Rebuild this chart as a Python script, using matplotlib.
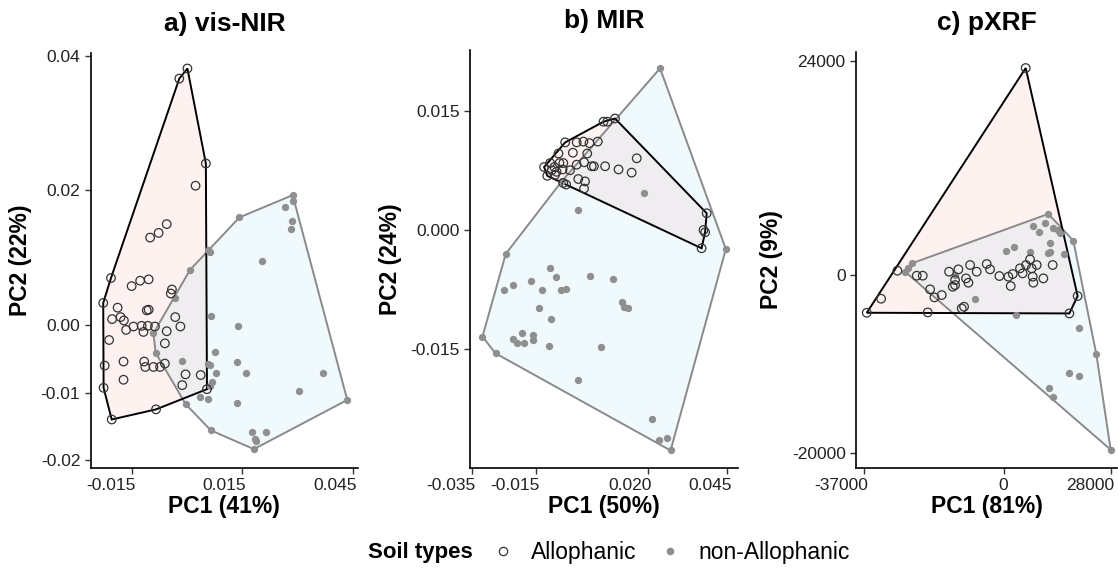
import numpy as np
import matplotlib
matplotlib.use("Agg")
import matplotlib.pyplot as plt
import matplotlib.transforms as mtransforms
from matplotlib.lines import Line2D

plt.rcParams['font.family'] = ['Liberation Sans', 'DejaVu Sans']

# ---- a) vis-NIR scores ----
visnir_allo_x = [0.0001, -0.0021, 0.0051, 0.0023, -0.0055, -0.0077, -0.0100, -0.0206, -0.0227,
                 -0.0150, -0.0127, -0.0104, -0.0041, -0.0044, -0.0188, -0.0203, -0.0180, -0.0171,
                 -0.0165, -0.0145, -0.0123, -0.0118, -0.0109, -0.0104, -0.0106, -0.0087, -0.0055,
                 -0.0060, -0.0032, -0.0018, -0.0211, -0.0223, -0.0172, -0.0172, -0.0226, -0.0116,
                 -0.0113, -0.0091, -0.0073, -0.0060, -0.0004, -0.0013, 0.0037, 0.0054, -0.0084,
                 -0.0204]
visnir_allo_y = [0.0381, 0.0366, 0.0240, 0.0207, 0.0150, 0.0137, 0.0130, 0.0070, 0.0033,
                 0.0058, 0.0066, 0.0068, 0.0053, 0.0047, 0.0026, 0.0009, 0.0012, 0.0007,
                 -0.0007, -0.0002, -0.0001, -0.0010, 0.0022, 0.0023, -0.0001, -0.0002, -0.0009,
                 -0.0027, 0.0012, -0.0002, -0.0022, -0.0060, -0.0054, -0.0081, -0.0093, -0.0054,
                 -0.0062, -0.0062, -0.0062, -0.0057, -0.0073, -0.0089, -0.0074, -0.0095, -0.0125,
                 -0.0140]
visnir_non_x = [0.0286, 0.0286, 0.0266, 0.0142, 0.0284, 0.0281, 0.0058, 0.0063, 0.0203, 0.0008,
                -0.0032, 0.0066, 0.0137, -0.0091, -0.0085, 0.0076, -0.0014, 0.0058, 0.0063, 0.0136,
                0.0079, 0.0160, 0.0367, 0.0068, 0.0062, 0.0304, 0.0434, 0.0035, 0.0058, 0.0134,
                -0.0004, 0.0064, 0.0175, 0.0213, 0.0185, 0.0187, 0.0181]
visnir_non_y = [0.0193, 0.0184, 0.0175, 0.0160, 0.0154, 0.0143, 0.0111, 0.0108, 0.0095, 0.0082,
                0.0040, 0.0013, -0.0001, -0.0012, -0.0041, -0.0040, -0.0053, -0.0057, -0.0059, -0.0055,
                -0.0071, -0.0071, -0.0071, -0.0084, -0.0091, -0.0097, -0.0111, -0.0107, -0.0109, -0.0116,
                -0.0117, -0.0156, -0.0159, -0.0158, -0.0169, -0.0172, -0.0184]

# ---- b) MIR scores ----
mir_allo_x = [-0.0058, -0.0022, -0.0001, 0.0018, 0.0044, -0.0034, 0.0011, -0.0079, -0.0064, -0.0076,
              -0.0105, -0.0124, -0.0100, -0.0114, -0.0090, -0.0066, -0.0043, -0.0022, 0.0001, 0.0025,
              0.0032, 0.0067, 0.0109, 0.0150, 0.0166, -0.0017, 0.0004, -0.0064, -0.0055, 0.0001,
              0.0385, 0.0375, 0.0380, 0.0369, 0.0062, 0.0074, 0.0098, -0.0092, -0.0085]
mir_allo_y = [0.0110, 0.0110, 0.0111, 0.0109, 0.0111, 0.0097, 0.0096, 0.0096, 0.0084, 0.0084,
              0.0084, 0.0079, 0.0075, 0.0068, 0.0069, 0.0076, 0.0075, 0.0082, 0.0085, 0.0080,
              0.0080, 0.0080, 0.0076, 0.0072, 0.0090, 0.0064, 0.0061, 0.0059, 0.0057, 0.0052,
              0.0021, 0.0000, -0.0003, -0.0023, 0.0136, 0.0136, 0.0140, 0.0079, 0.0073]
mir_non_x = [0.0239, 0.0189, -0.0018, -0.0244, 0.0445, -0.0105, -0.0087, 0.0019, 0.0092, -0.0166,
             -0.0222, -0.0250, -0.0132, -0.0070, -0.0055, 0.0121, 0.0126, 0.0139, -0.0140, -0.0102,
             -0.0193, -0.0222, -0.0210, -0.0187, -0.0160, -0.0160, -0.0110, 0.0054, -0.0317, -0.0276,
             -0.0017, 0.0214, 0.0262, 0.0235, 0.0272, -0.0069]
mir_non_y = [0.0203, 0.0047, 0.0025, -0.0030, -0.0024, -0.0048, -0.0059, -0.0058, -0.0062, -0.0064,
             -0.0069, -0.0076, -0.0075, -0.0075, -0.0074, -0.0091, -0.0097, -0.0098, -0.0098, -0.0112,
             -0.0130, -0.0137, -0.0142, -0.0142, -0.0132, -0.0138, -0.0146, -0.0147, -0.0134, -0.0155,
             -0.0189, -0.0237, -0.0261, -0.0264, -0.0277, 0.0061]

# ---- c) pXRF scores ----
pxrf_allo_x = [5624, -36300, 17140, 19330, -32520, -28220, -23120, -21540, -19600, -18460,
               -16530, -20220, -14590, -12130, -13620, -13010, -10110, -9490, -9050, -7300,
               -4660, -3780, -10640, -11250, -1320, 1050, 1670, 2200, 4130, 4830,
               5710, 6770, 7210, 7470, 7650, 8530, 10280, 12740, -13010]
pxrf_allo_y = [23219, -4232, -4307, -2359, -2659, 487, -75, -75, -1610, -2509,
               -2247, -4194, 375, 637, -1311, -562, -375, -861, 1124, 375,
               1236, 637, -3558, -3745, -112, -187, -1236, 112, 749, 187,
               1124, 1760, 749, -187, -861, 1124, -375, 1124, -1124]
pxrf_non_x = [11600, 7470, 9230, 10630, 12920, 14240, 14670, 12040, 12040, 11600,
              15730, 18190, 440, 2550, 6770, -24430, -26190, -25310, -7740, 2990,
              19780, 24260, 17140, 19780, 11870, 12920, 28040, -13010]
pxrf_non_y = [6853, 5505, 4794, 5880, 5243, 5056, 4681, 3558, 2622, 2434,
              2359, 3857, 2734, 3108, 2622, 1311, 375, 749, -2734, -4494,
              -5992, -8876, -10970, -11310, -12660, -13670, -19590, 0]

titles = ["a) vis-NIR", "b) MIR", "c) pXRF"]
xlabels = ["PC1 (41%)", "PC1 (50%)", "PC1 (81%)"]
ylabels = ["PC2 (22%)", "PC2 (24%)", "PC2 (9%)"]
xticks = [[-0.015, 0.015, 0.045], [-0.035, -0.015, 0.020, 0.045], [-37000, 0, 28000]]
xticklabels = [["-0.015", "0.015", "0.045"], ["-0.035", "-0.015", "0.020", "0.045"],
               ["-37000", "0", "28000"]]
yticks = [[0.04, 0.02, 0.0, -0.01, -0.02], [0.015, 0.0, -0.015], [24000, 0, -20000]]
yticklabels = [["0.04", "0.02", "0.00", "-0.01", "-0.02"], ["0.015", "0.000", "-0.015"],
               ["24000", "0", "-20000"]]


def hull(xs, ys):
    # simple monotone chain convex hull
    pts = sorted(set(zip(xs, ys)))

    def cross(o, a, b):
        return (a[0] - o[0]) * (b[1] - o[1]) - (a[1] - o[1]) * (b[0] - o[0])

    lower, upper = [], []
    for p in pts:
        while len(lower) >= 2 and cross(lower[-2], lower[-1], p) <= 0:
            lower.pop()
        lower.append(p)
    for p in reversed(pts):
        while len(upper) >= 2 and cross(upper[-2], upper[-1], p) <= 0:
            upper.pop()
        upper.append(p)
    return np.array(lower[:-1] + upper[:-1])


fig = plt.figure(figsize=(11.18, 5.85), dpi=100)
positions = [[0.0811, 0.2, 0.2391, 0.7094],
             [0.4204, 0.2, 0.2397, 0.7145],
             [0.7657, 0.2, 0.2335, 0.7110]]
limits = [((-0.0261, 0.0463), (-0.0212, 0.0404)),
          ((-0.0356, 0.0483), (-0.0299, 0.0226)),
          ((-39130, 29740), (-21645, 25010))]
data = [(visnir_allo_x, visnir_allo_y, visnir_non_x, visnir_non_y),
        (mir_allo_x, mir_allo_y, mir_non_x, mir_non_y),
        (pxrf_allo_x, pxrf_allo_y, pxrf_non_x, pxrf_non_y)]

pink = '#F8766D'
blue = '#5BC0DE'
grey_pts = '#8f8f8f'

# tick labels sit right-aligned, a few px past the tick
shift = mtransforms.ScaledTranslation(4 / 100, 0, fig.dpi_scale_trans)

for i in range(3):
    ax = fig.add_axes(positions[i])
    ax_x, ay, nx, ny = data[i]
    ha = hull(ax_x, ay)
    hn = hull(nx, ny)
    ax.fill(ha[:, 0], ha[:, 1], color=pink, alpha=0.09, lw=0, zorder=1)
    ax.fill(hn[:, 0], hn[:, 1], color=blue, alpha=0.09, lw=0, zorder=1)
    ax.fill(ha[:, 0], ha[:, 1], fc='none', ec='black', lw=1.4, zorder=3)
    ax.fill(hn[:, 0], hn[:, 1], fc='none', ec='#8a8a8a', lw=1.4, zorder=2)
    ax.scatter(nx, ny, s=28, color=grey_pts, lw=0, zorder=4)
    ax.scatter(ax_x, ay, s=38, facecolors='none', edgecolors='#333333', lw=0.9, zorder=5)

    ax.set_xlim(limits[i][0])
    ax.set_ylim(limits[i][1])
    ax.set_xticks(xticks[i])
    ax.set_xticklabels(xticklabels[i])
    ax.set_yticks(yticks[i])
    ax.set_yticklabels(yticklabels[i])
    ax.tick_params(labelsize=12.5, length=4, width=1, color='#333333', labelcolor='#222222')
    for lab in ax.get_xticklabels():
        lab.set_horizontalalignment('right')
        lab.set_transform(lab.get_transform() + shift)
    for s in ['top', 'right']:
        ax.spines[s].set_visible(False)
    for s in ['left', 'bottom']:
        ax.spines[s].set_linewidth(1.2)
    ax.set_xlabel(xlabels[i], fontsize=16.5, fontweight='bold', labelpad=1)
    ax.set_ylabel(ylabels[i], fontsize=16.5, fontweight='bold', labelpad=6)
    ax.set_title(titles[i], fontsize=19, fontweight='bold', pad=16)

# legend at the bottom
fig.text(0.329, 0.056, "Soil types", fontsize=16, fontweight='bold', va='center', ha='left')
handles = [Line2D([], [], ls='none', marker='o', ms=6, mfc='none', mec='#333333', mew=0.9),
           Line2D([], [], ls='none', marker='o', ms=5.5, mfc=grey_pts, mec='none')]
fig.legend(handles, ["Allophanic", "non-Allophanic"], loc='center left',
           bbox_to_anchor=(0.421, 0.056), ncol=2, frameon=False, fontsize=16.5,
           handlelength=1.0, handletextpad=0.75, columnspacing=0.95)

fig.savefig("out.png", dpi=100)
